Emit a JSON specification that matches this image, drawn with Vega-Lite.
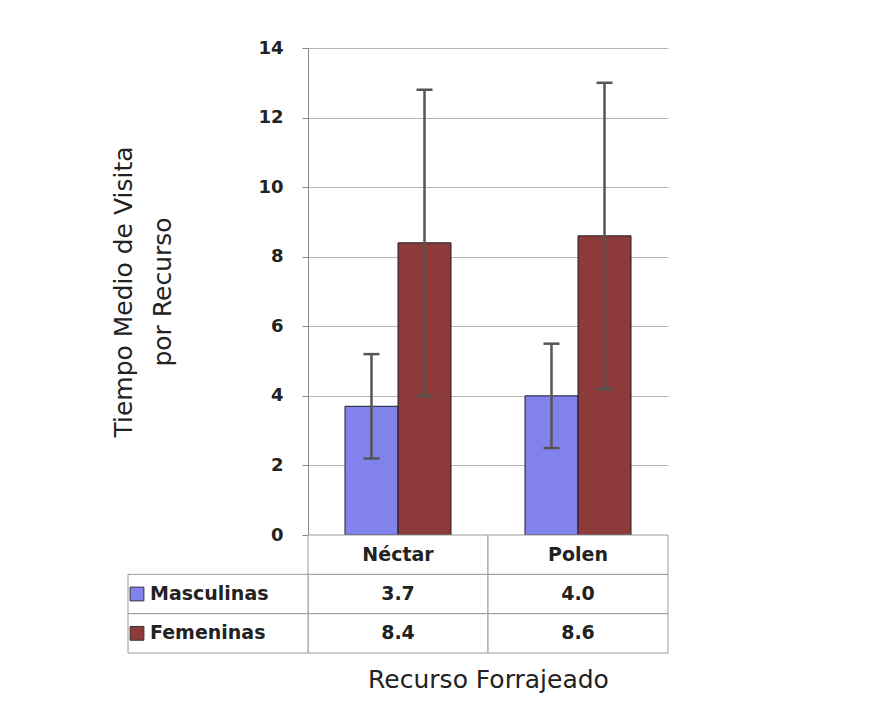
{
  "$schema": "https://vega.github.io/schema/vega-lite/v6.json",
  "padding": {"left": 111, "top": 39, "right": 10, "bottom": 10},
  "background": "white",
  "config": {"view": {"stroke": null}, "font": "DejaVu Sans"},
  "datasets": {
    "barras": [
      {"recurso": "Néctar", "sexo": "Masculinas", "media": 3.7, "inferior": 2.2, "superior": 5.2},
      {"recurso": "Néctar", "sexo": "Femeninas", "media": 8.4, "inferior": 4.0, "superior": 12.8},
      {"recurso": "Polen", "sexo": "Masculinas", "media": 4.0, "inferior": 2.5, "superior": 5.5},
      {"recurso": "Polen", "sexo": "Femeninas", "media": 8.6, "inferior": 4.2, "superior": 13.0}
    ],
    "recursos": [{"recurso": "Néctar"}, {"recurso": "Polen"}],
    "sexos": [{"sexo": "Masculinas"}, {"sexo": "Femeninas"}]
  },
  "width": 360,
  "height": 487,
  "resolve": {"scale": {"x": "independent", "y": "independent"}},
  "layer": [
    {
      "data": {"name": "barras"},
      "encoding": {
        "x": {
          "field": "recurso", "type": "nominal",
          "scale": {"domain": ["Néctar", "Polen"], "paddingInner": 0, "paddingOuter": 0},
          "axis": {"orient": "bottom", "labels": false, "ticks": false, "domain": false, "grid": false, "offset": 118,
            "title": "Recurso Forrajeado", "titleFont": "DejaVu Sans", "titleFontSize": 25, "titleFontWeight": "normal",
            "titleColor": "#222", "titlePadding": 14, "minExtent": 0, "maxExtent": 0}
        },
        "xOffset": {"field": "sexo", "type": "nominal", "scale": {"domain": ["Masculinas", "Femeninas"], "paddingInner": 0, "paddingOuter": 0.698}}
      },
      "layer": [
        {
          "mark": {"type": "bar", "stroke": "#1e1e2a", "strokeWidth": 1},
          "encoding": {
            "y": {
              "field": "media", "type": "quantitative",
              "scale": {"domain": [0, 14]},
              "title": ["Tiempo Medio de Visita", "por Recurso"],
              "axis": {
                "title": ["Tiempo Medio de Visita", "por Recurso"],
                "values": [0, 2, 4, 6, 8, 10, 12, 14],
                "tickSize": 6, "tickColor": "#888", "domainColor": "#888", "domainWidth": 1,
                "grid": true, "gridColor": "#b5b5b5",
                "labelFont": "DejaVu Sans", "labelFontWeight": "bold", "labelFontSize": 18, "labelColor": "#222",
                "labelPadding": 19, "minExtent": 50, "maxExtent": 50,
                "titlePadding": 83, "titleFont": "DejaVu Sans", "titleFontSize": 25, "titleFontWeight": "normal",
                "titleColor": "#222", "titleLineHeight": 39
              }
            },
            "color": {"field": "sexo", "type": "nominal", "scale": {"domain": ["Masculinas", "Femeninas"], "range": ["#8282ec", "#8d3b3a"]}, "legend": null}
          }
        },
        {
          "mark": {"type": "rule", "color": "#555", "strokeWidth": 2.5},
          "encoding": {"y": {"field": "inferior", "type": "quantitative"}, "y2": {"field": "superior"}}
        },
        {
          "mark": {"type": "tick", "color": "#555", "thickness": 2.5, "size": 16, "opacity": 1},
          "encoding": {"y": {"field": "inferior", "type": "quantitative"}}
        },
        {
          "mark": {"type": "tick", "color": "#555", "thickness": 2.5, "size": 16, "opacity": 1},
          "encoding": {"y": {"field": "superior", "type": "quantitative"}}
        }
      ]
    },
    {
      "encoding": {
        "x": {"type": "nominal", "scale": {"domain": ["leyenda", "Néctar", "Polen"], "range": [-180, 360], "paddingInner": 0, "paddingOuter": 0}, "axis": null},
        "y": {"type": "nominal", "scale": {"domain": ["cab", "Masculinas", "Femeninas"], "range": [487, 605], "paddingInner": 0, "paddingOuter": 0}, "axis": null}
      },
      "layer": [
        {
          "data": {"name": "barras"},
          "mark": {"type": "rect", "fill": "white", "stroke": "#9a9a9a", "strokeWidth": 1},
          "encoding": {"x": {"field": "recurso", "type": "nominal"}, "y": {"field": "sexo", "type": "nominal"}}
        },
        {
          "data": {"name": "recursos"},
          "mark": {"type": "rect", "fill": "white", "stroke": "#9a9a9a", "strokeWidth": 1},
          "encoding": {"x": {"field": "recurso", "type": "nominal"}, "y": {"datum": "cab", "type": "nominal"}}
        },
        {
          "data": {"name": "sexos"},
          "mark": {"type": "rect", "fill": "white", "stroke": "#9a9a9a", "strokeWidth": 1},
          "encoding": {"x": {"datum": "leyenda", "type": "nominal"}, "y": {"field": "sexo", "type": "nominal"}}
        },
        {
          "data": {"name": "sexos"},
          "mark": {"type": "square", "size": 190, "xOffset": -81, "stroke": "#333", "strokeWidth": 1, "opacity": 1, "filled": true},
          "encoding": {
            "x": {"datum": "leyenda", "type": "nominal"},
            "y": {"field": "sexo", "type": "nominal"},
            "color": {"field": "sexo", "type": "nominal", "scale": {"domain": ["Masculinas", "Femeninas"], "range": ["#8282ec", "#8d3b3a"]}, "legend": null}
          }
        },
        {
          "data": {"name": "sexos"},
          "mark": {"type": "text", "align": "left", "xOffset": -68, "font": "DejaVu Sans", "fontWeight": "bold", "fontSize": 19, "color": "#222"},
          "encoding": {"x": {"datum": "leyenda", "type": "nominal"}, "y": {"field": "sexo", "type": "nominal"}, "text": {"field": "sexo"}}
        },
        {
          "data": {"name": "barras"},
          "mark": {"type": "text", "font": "DejaVu Sans", "fontWeight": "bold", "fontSize": 19, "color": "#222"},
          "encoding": {
            "x": {"field": "recurso", "type": "nominal"},
            "y": {"field": "sexo", "type": "nominal"},
            "text": {"field": "media", "type": "quantitative", "format": ".1f"}
          }
        },
        {
          "data": {"name": "recursos"},
          "mark": {"type": "text", "font": "DejaVu Sans", "fontWeight": "bold", "fontSize": 19, "color": "#222"},
          "encoding": {
            "x": {"field": "recurso", "type": "nominal"},
            "y": {"datum": "cab", "type": "nominal"},
            "text": {"field": "recurso"}
          }
        }
      ]
    }
  ]
}
